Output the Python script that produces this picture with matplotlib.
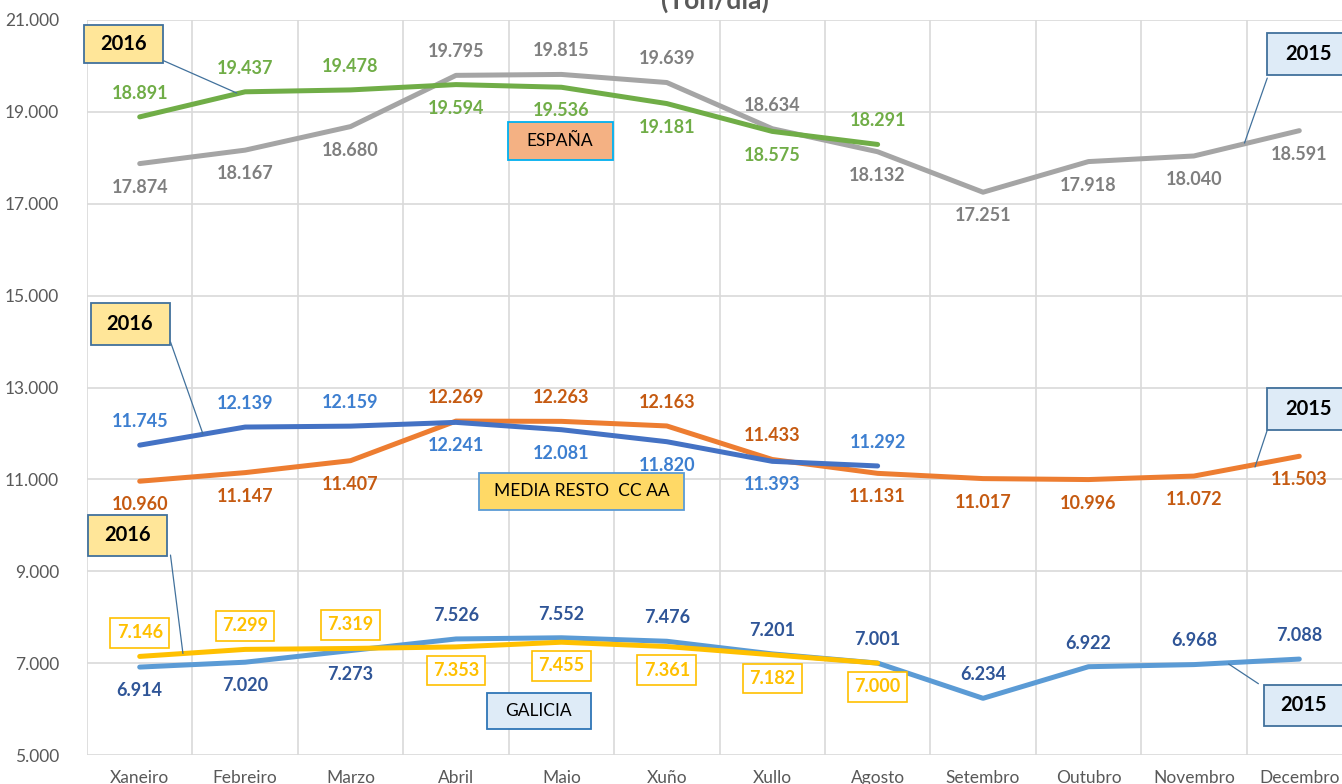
import matplotlib
matplotlib.use("Agg")
import matplotlib.pyplot as plt
from matplotlib.patches import Rectangle
from matplotlib.ticker import FuncFormatter, FixedLocator

# Data (ton/dia)
months = ["Xaneiro", "Febreiro", "Marzo", "Abril", "Maio", "Xuño",
          "Xullo", "Agosto", "Setembro", "Outubro", "Novembro", "Decembro"]
espana_2016 = [18891, 19437, 19478, 19594, 19536, 19181, 18575, 18291]
espana_2015 = [17874, 18167, 18680, 19795, 19815, 19639, 18634, 18132,
               17251, 17918, 18040, 18591]
resto_2016 = [11745, 12139, 12159, 12241, 12081, 11820, 11393, 11292]
resto_2015 = [10960, 11147, 11407, 12269, 12263, 12163, 11433, 11131,
              11017, 10996, 11072, 11503]
galicia_2016 = [7146, 7299, 7319, 7353, 7455, 7361, 7182, 7000]
galicia_2015 = [6914, 7020, 7273, 7526, 7552, 7476, 7201, 7001,
                6234, 6922, 6968, 7088]

# label placement: +1 above, -1 below
pos_esp16 = [1, 1, 1, -1, -1, -1, -1, 1]
pos_esp15 = [-1, -1, -1, 1, 1, 1, 1, -1, -1, -1, -1, -1]
pos_res16 = [1, 1, 1, -1, -1, -1, -1, 1]
pos_res15 = [-1, -1, -1, 1, 1, 1, 1, -1, -1, -1, -1, -1]
pos_gal16 = [1, 1, 1, -1, -1, -1, -1, -1]
pos_gal15 = [-1, -1, -1, 1, 1, 1, 1, 1, 1, 1, 1, 1]

plt.rcParams["font.family"] = ["Lato", "DejaVu Sans"]


def fmt(v):
    return f"{v:,.0f}".replace(",", ".")


fig = plt.figure(figsize=(13.42, 7.84), dpi=100)
ax = fig.add_axes([87 / 1342, 29 / 784, 1265 / 1342, 735 / 784])

ax.set_xlim(-0.5, 11.5)
ax.set_ylim(5000, 21000)
ax.set_yticks(range(5000, 21001, 2000))
ax.yaxis.set_major_formatter(FuncFormatter(lambda v, p: fmt(v)))
ax.set_xticks(range(12))
ax.set_xticklabels(months)
ax.xaxis.set_minor_locator(FixedLocator([i - 0.5 for i in range(13)]))
ax.grid(True, which="minor", axis="x", color="#D9D9D9", lw=1.2)
ax.grid(True, which="major", axis="y", color="#D9D9D9", lw=1.2)
ax.tick_params(which="both", length=0)
ax.tick_params(axis="y", pad=20, labelsize=12.5, labelcolor="#595959")
ax.tick_params(axis="x", pad=11, labelsize=12.5, labelcolor="#595959")
for s in ax.spines.values():
    s.set_visible(False)
ax.set_axisbelow(True)

series = [
    (espana_2015, "#A5A5A5", "#7F7F7F", pos_esp15, False),
    (espana_2016, "#70AD47", "#70AD47", pos_esp16, False),
    (resto_2015, "#ED7D31", "#C55A11", pos_res15, False),
    (resto_2016, "#4472C4", "#3D7FD0", pos_res16, False),
    (galicia_2015, "#5B9BD5", "#2F5597", pos_gal15, False),
    (galicia_2016, "#FFC000", "#FFC000", pos_gal16, True),
]

for vals, lc, tc, pos, boxed in series:
    xs = list(range(len(vals)))
    ax.plot(xs, vals, color=lc, lw=3.6, solid_capstyle="round", zorder=3)
    for x, v, p in zip(xs, vals, pos):
        kw = {}
        if boxed:
            kw["bbox"] = dict(boxstyle="square,pad=0.35", fc="white",
                              ec="#FFC000", lw=1.2)
        ax.annotate(fmt(v), (x, v), xytext=(0, 17 * p),
                    textcoords="offset points", ha="center", va="center",
                    fontsize=13, fontweight="bold", color=tc, zorder=5, **kw)


def box(cx, cy, w, h, text, fc, ec, size, weight="normal"):
    # cx, cy in axes fraction, w, h in pixels
    W = w / 1265
    H = h / 735
    ax.add_patch(Rectangle((cx - W / 2, cy - H / 2), W, H, transform=ax.transAxes,
                           fc=fc, ec=ec, lw=1.3, zorder=6, clip_on=False))
    ax.text(cx, cy, text, transform=ax.transAxes, ha="center", va="center",
            fontsize=size, fontweight=weight, color="black", zorder=7)


def leader(xy_axes, xy_data):
    ax.annotate("", xy=xy_data, xycoords="data", xytext=xy_axes,
                textcoords="axes fraction",
                arrowprops=dict(arrowstyle="-", color="#41719C", lw=0.9,
                                shrinkA=0, shrinkB=0), zorder=4)


Y16 = "#FFE699"
Y15 = "#DEEBF7"
EB = "#41719C"

# Espana
leader((0.060, 0.945), (0.92, 19411))
box(0.0292, 0.967, 79, 38, "2016", Y16, EB, 14.5, "bold")
box(0.374, 0.835, 105, 38, "ESPAÑA", "#F4B183", "#00B0F0", 12.5)
leader((0.933, 0.921), (10.48, 18322))
box(0.966, 0.954, 84, 42, "2015", Y15, EB, 14.5, "bold")

# Media resto CC AA
leader((0.066, 0.562), (0.60, 11988))
box(0.034, 0.586, 79, 42, "2016", Y16, EB, 14.5, "bold")
box(0.391, 0.359, 205, 37, "MEDIA RESTO  CC AA", "#FFD966", "#5B9BD5", 12.5)
leader((0.933, 0.442), (10.58, 11269))
box(0.966, 0.471, 84, 42, "2015", Y15, EB, 14.5, "bold")

# Galicia
leader((0.066, 0.272), (0.41, 7210))
box(0.0324, 0.299, 79, 41, "2016", Y16, EB, 14.5, "bold")
box(0.357, 0.060, 104, 36, "GALICIA", Y15, "#2E75B6", 12.5)
leader((0.926, 0.097), (10.33, 6981))
box(0.962, 0.068, 80, 41, "2015", Y15, EB, 14.5, "bold")

fig.text(0.533, 0.989, "(Ton/día)", ha="center", va="baseline",
         fontsize=19, fontweight="bold", color="#595959")

fig.savefig("out.png", dpi=100)
